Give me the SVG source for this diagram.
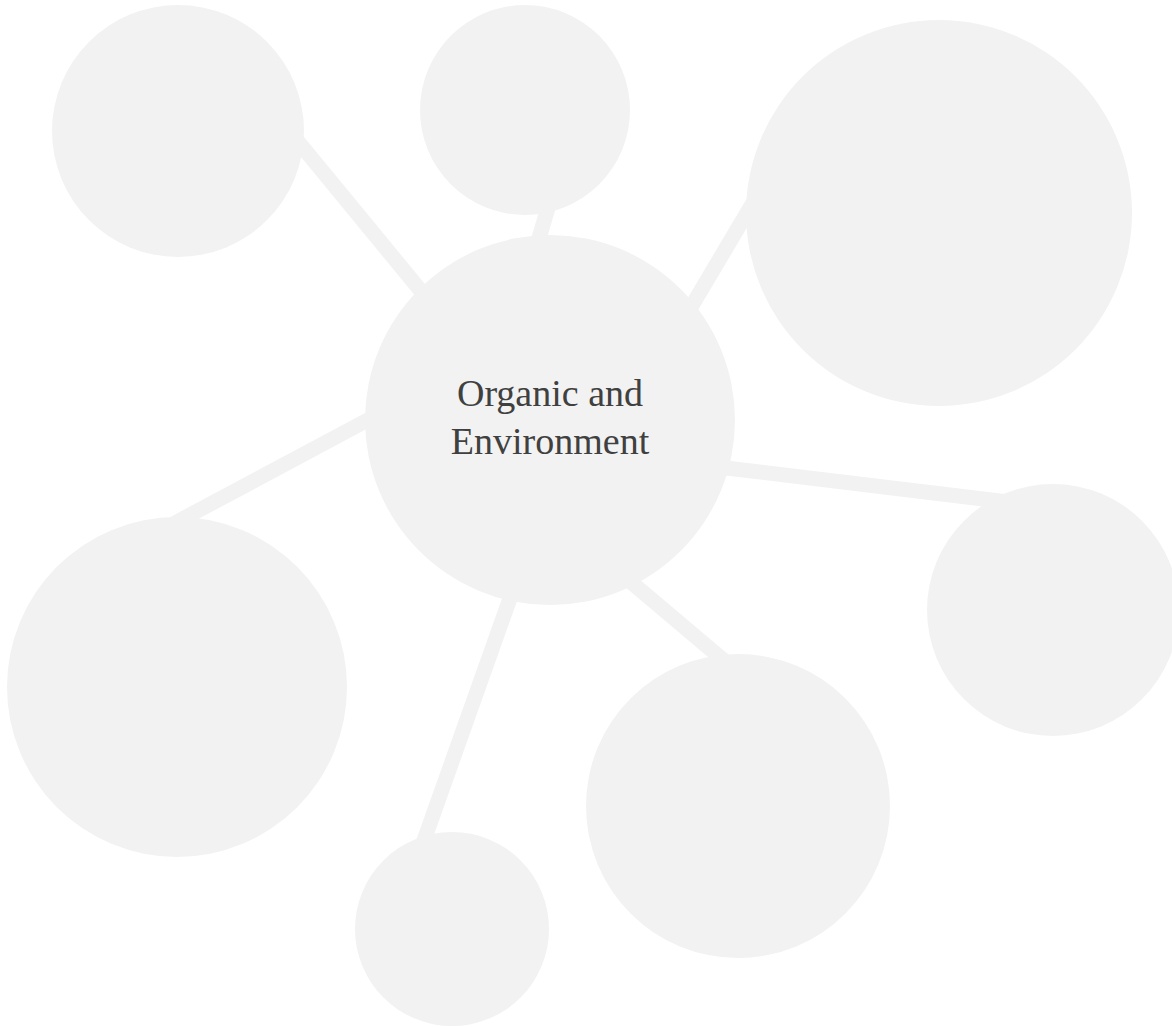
<svg xmlns="http://www.w3.org/2000/svg" width="1172" height="1027" viewBox="0 0 1172 1027">
<style>
.node{fill:#f2f2f2}
.edge{stroke:#f2f2f2;stroke-width:15;stroke-linecap:butt;fill:none}
.label{font-family:"Liberation Serif","DejaVu Serif",serif;font-size:38px;fill:#404040;text-anchor:middle}
</style>
<rect width="1172" height="1027" fill="#ffffff"/>
<g id="connectors">
<line class="edge" x1="291" y1="133" x2="430" y2="302"/>
<line class="edge" x1="551" y1="198" x2="536" y2="248"/>
<line class="edge" x1="754" y1="201" x2="687" y2="314"/>
<line class="edge" x1="718" y1="467" x2="1008" y2="502"/>
<line class="edge" x1="377" y1="415" x2="173" y2="524"/>
<line class="edge" x1="513" y1="590" x2="422" y2="846"/>
<line class="edge" x1="625" y1="577" x2="728" y2="664"/>
</g>
<g id="node-top-left"><circle class="node" cx="178" cy="131" r="126"/></g>
<g id="node-top"><circle class="node" cx="525" cy="110" r="105"/></g>
<g id="node-top-right"><circle class="node" cx="939" cy="213" r="193"/></g>
<g id="node-right"><circle class="node" cx="1053" cy="610" r="126"/></g>
<g id="node-bottom-right"><circle class="node" cx="738" cy="806" r="152"/></g>
<g id="node-bottom"><circle class="node" cx="452" cy="929" r="97"/></g>
<g id="node-left"><circle class="node" cx="177" cy="687" r="170"/></g>
<g id="node-center">
<circle class="node" cx="550" cy="420" r="185"/>
<text class="label" x="550" y="406">Organic and</text>
<text class="label" x="550" y="454">Environment</text>
</g>
</svg>
